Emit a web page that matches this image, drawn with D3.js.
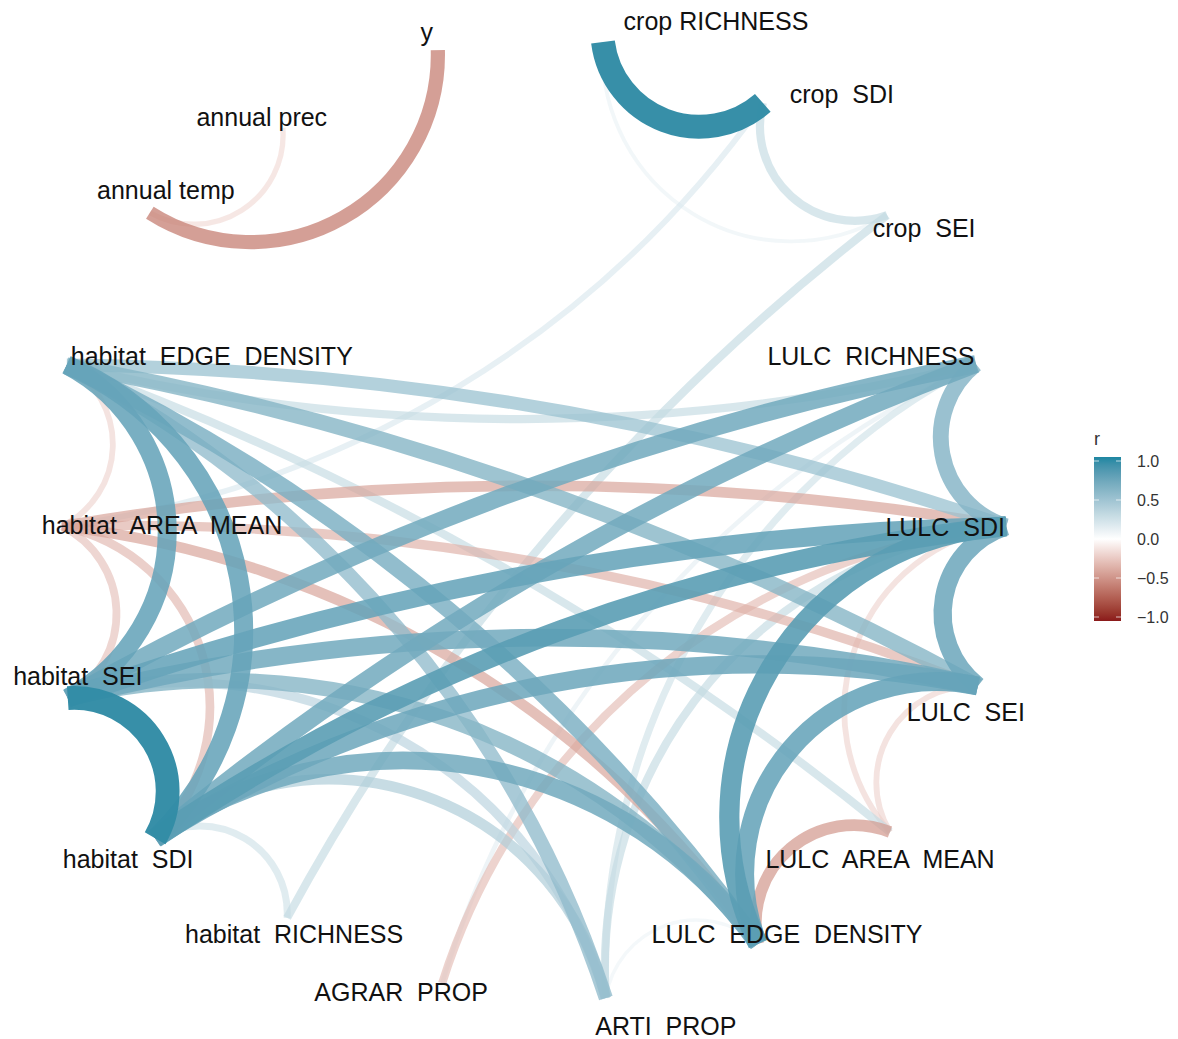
<!DOCTYPE html>
<html lang="en">
<head>
<meta charset="UTF-8" />
<title>Correlation network</title>
<style>
  html, body {
    margin: 0;
    padding: 0;
    background: #fff;
  }
  svg {
    display: block;
    font-family: "Liberation Sans", Arial, Helvetica, sans-serif;
  }
  .node-label {
    font-size: 25px;
    fill: #111;
    white-space: pre;
  }
  .legend text {
    font-size: 16px;
    fill: #333;
  }
</style>
</head>
<body>
<svg id="chart" width="1178" height="1039"></svg>

<script src="https://d3js.org/d3.v7.min.js"></script>
<script>
// variables and their 2-d (multidimensional scaling) coordinates
const variables = [
  "y", "annual prec", "annual temp",
  "crop RICHNESS", "crop  SDI", "crop  SEI",
  "LULC  RICHNESS", "LULC  SDI", "LULC  SEI", "LULC  AREA  MEAN", "LULC  EDGE  DENSITY",
  "ARTI  PROP", "AGRAR  PROP",
  "habitat  RICHNESS", "habitat  SDI", "habitat  SEI", "habitat  AREA  MEAN", "habitat  EDGE  DENSITY"
];
const coordX = [-0.192, -0.515, -0.792, 0.152, 0.485, 0.744, 0.929, 0.992, 0.933, 0.750, 0.475,
                 0.158, -0.183, -0.506, -0.781, -0.963, -0.975, -0.965];
const coordY = [0.979, 0.817, 0.640, 0.996, 0.869, 0.635, 0.325, -0.013, -0.346, -0.650, -0.883,
                -0.996, -0.965, -0.829, -0.663, -0.371, -0.013, 0.323];

// correlations drawn as paths: [from, to, r]
const links = [
  ["y", "annual temp", -0.55],
  ["annual prec", "annual temp", -0.18],
  ["crop  SDI", "crop RICHNESS", 0.95],
  ["crop  SEI", "crop  SDI", 0.3],
  ["crop  SEI", "crop RICHNESS", 0.12],
  ["habitat  EDGE  DENSITY", "habitat  AREA  MEAN", -0.2],
  ["habitat  AREA  MEAN", "habitat  SEI", -0.28],
  ["habitat  AREA  MEAN", "habitat  SDI", -0.32],
  ["habitat  EDGE  DENSITY", "habitat  SEI", 0.75],
  ["habitat  EDGE  DENSITY", "habitat  SDI", 0.75],
  ["habitat  SEI", "habitat  SDI", 0.95],
  ["habitat  SDI", "habitat  RICHNESS", 0.25],
  ["LULC  SDI", "LULC  RICHNESS", 0.62],
  ["LULC  SEI", "LULC  SDI", 0.72],
  ["LULC  AREA  MEAN", "LULC  SDI", -0.2],
  ["LULC  AREA  MEAN", "LULC  SEI", -0.2],
  ["LULC  EDGE  DENSITY", "LULC  AREA  MEAN", -0.45],
  ["LULC  EDGE  DENSITY", "LULC  SDI", 0.8],
  ["LULC  EDGE  DENSITY", "LULC  SEI", 0.75],
  ["ARTI  PROP", "LULC  EDGE  DENSITY", 0.1],
  ["habitat  EDGE  DENSITY", "LULC  SEI", 0.6],
  ["habitat  EDGE  DENSITY", "LULC  SDI", 0.5],
  ["LULC  RICHNESS", "habitat  EDGE  DENSITY", 0.3],
  ["habitat  EDGE  DENSITY", "LULC  EDGE  DENSITY", 0.65],
  ["habitat  EDGE  DENSITY", "ARTI  PROP", 0.55],
  ["habitat  EDGE  DENSITY", "LULC  AREA  MEAN", 0.3],
  ["habitat  AREA  MEAN", "LULC  SDI", -0.4],
  ["habitat  AREA  MEAN", "LULC  SEI", -0.35],
  ["habitat  AREA  MEAN", "LULC  EDGE  DENSITY", -0.4],
  ["crop  SDI", "habitat  AREA  MEAN", 0.2],
  ["habitat  SEI", "LULC  SDI", 0.75],
  ["habitat  SEI", "LULC  RICHNESS", 0.7],
  ["habitat  SEI", "LULC  SEI", 0.7],
  ["habitat  SEI", "LULC  EDGE  DENSITY", 0.6],
  ["habitat  SEI", "ARTI  PROP", 0.35],
  ["habitat  SDI", "LULC  SDI", 0.8],
  ["habitat  SDI", "LULC  RICHNESS", 0.7],
  ["habitat  SDI", "LULC  SEI", 0.72],
  ["habitat  SDI", "LULC  EDGE  DENSITY", 0.7],
  ["habitat  SDI", "ARTI  PROP", 0.4],
  ["ARTI  PROP", "LULC  RICHNESS", 0.25],
  ["ARTI  PROP", "LULC  SDI", 0.3],
  ["AGRAR  PROP", "LULC  SDI", -0.3],
  ["AGRAR  PROP", "LULC  RICHNESS", 0.15],
  ["habitat  RICHNESS", "crop  SEI", 0.3]
];

// legend
const legendBreaks = [-1, -0.5, 0, 0.5, 1];

// ---- drawing ----
const svg = d3.select("#chart");

const x = d3.scaleLinear().domain([-1, 1]).range([50, 1010]);
const y = d3.scaleLinear().domain([-1, 1]).range([1000, 40]);

const color = d3.scaleLinear()
  .domain([-1, 0, 1])
  .range(["#8b1a1a", "#ffffff", "#1e86a2"])
  .interpolate(d3.interpolateLab);
const width = d3.scaleLinear().domain([0, 1]).range([1, 25]);
const alpha = d3.scaleLinear().domain([0, 1]).range([0.5, 1]);

const pos = new Map(variables.map((v, i) => [v, [x(coordX[i]), y(coordY[i])]]));

// curved path, bending to the left of the travel direction;
// long paths are flattened
function curvePath(p, q) {
  const dx = q[0] - p[0], dy = q[1] - p[1];
  const L = Math.hypot(dx, dy);
  const k = L <= 420 ? 0.3 : Math.max(0.04, 0.3 - 0.26 * (L - 420) / 530);
  const s = k * L, h = L / 2;
  const R = (h * h + s * s) / (2 * s);
  return `M${p[0]},${p[1]}A${R},${R} 0 0 1 ${q[0]},${q[1]}`;
}

const sorted = links.slice().sort((a, b) => Math.abs(a[2]) - Math.abs(b[2]));

svg.append("g")
  .selectAll("path")
  .data(sorted)
  .join("path")
  .attr("d", d => curvePath(pos.get(d[0]), pos.get(d[1])))
  .attr("fill", "none")
  .attr("stroke", d => color(d[2]))
  .attr("stroke-opacity", d => alpha(Math.abs(d[2])))
  .attr("stroke-width", d => width(Math.abs(d[2])))
  .attr("stroke-linecap", "butt");

// text offsets from each node (repelled labels)
const labelNudge = {
  "y": [-11, -18],
  "annual prec": [-21, -11],
  "annual temp": [16, -23],
  "crop RICHNESS": [113, -21],
  "crop  SDI": [79, -9],
  "crop  SEI": [37, 13],
  "LULC  RICHNESS": [-105, -8],
  "LULC  SDI": [-61, 1],
  "LULC  SEI": [-12, 26],
  "LULC  AREA  MEAN": [-10, 27],
  "LULC  EDGE  DENSITY": [29, -10],
  "ARTI  PROP": [60, 28],
  "AGRAR  PROP": [-41, 9],
  "habitat  RICHNESS": [7, 16],
  "habitat  SDI": [-27, 21],
  "habitat  SEI": [10, -22],
  "habitat  AREA  MEAN": [100, -1],
  "habitat  EDGE  DENSITY": [145, -9]
};

svg.append("g")
  .selectAll("text")
  .data(variables)
  .join("text")
  .attr("class", "node-label")
  .attr("x", d => pos.get(d)[0] + labelNudge[d][0])
  .attr("y", d => pos.get(d)[1] + labelNudge[d][1])
  .attr("dy", "0.36em")
  .attr("text-anchor", "middle")
  .text(d => d);

// colour bar legend
const ly = d3.scaleLinear().domain([-1, 1]).range([617, 461]);
const barX = 1094, barW = 27;

const grad = svg.append("defs").append("linearGradient")
  .attr("id", "rgrad")
  .attr("x1", 0).attr("y1", 1).attr("x2", 0).attr("y2", 0);
d3.range(0, 1.0001, 0.05).forEach(t => {
  grad.append("stop")
    .attr("offset", t)
    .attr("stop-color", color(-1 + 2 * t));
});

const legend = svg.append("g").attr("class", "legend");

legend.append("text")
  .attr("x", barX)
  .attr("y", ly(1) - 16)
  .style("font-size", "18px")
  .text("r");

legend.append("rect")
  .attr("x", barX)
  .attr("y", ly(1) - 4)
  .attr("width", barW)
  .attr("height", ly(-1) - ly(1) + 8)
  .attr("fill", "url(#rgrad)");

legend.selectAll("line.tl")
  .data(legendBreaks)
  .join("line")
  .attr("x1", barX).attr("x2", barX + 5)
  .attr("y1", d => ly(d)).attr("y2", d => ly(d))
  .attr("stroke", "#fff").attr("stroke-opacity", 0.7);

legend.selectAll("line.tr")
  .data(legendBreaks)
  .join("line")
  .attr("x1", barX + barW - 5).attr("x2", barX + barW)
  .attr("y1", d => ly(d)).attr("y2", d => ly(d))
  .attr("stroke", "#fff").attr("stroke-opacity", 0.7);

const axis = d3.axisRight(ly)
  .tickValues(legendBreaks)
  .tickFormat(d3.format(".1f"))
  .tickSize(0)
  .tickPadding(16);

legend.append("g")
  .attr("transform", `translate(${barX + barW},0)`)
  .call(axis)
  .call(g => g.select(".domain").remove())
  .call(g => g.selectAll("text")
    .style("font-size", "16px")
    .style("font-family", "'Liberation Sans', Arial, sans-serif")
    .attr("fill", "#333"));
</script>
</body>
</html>
